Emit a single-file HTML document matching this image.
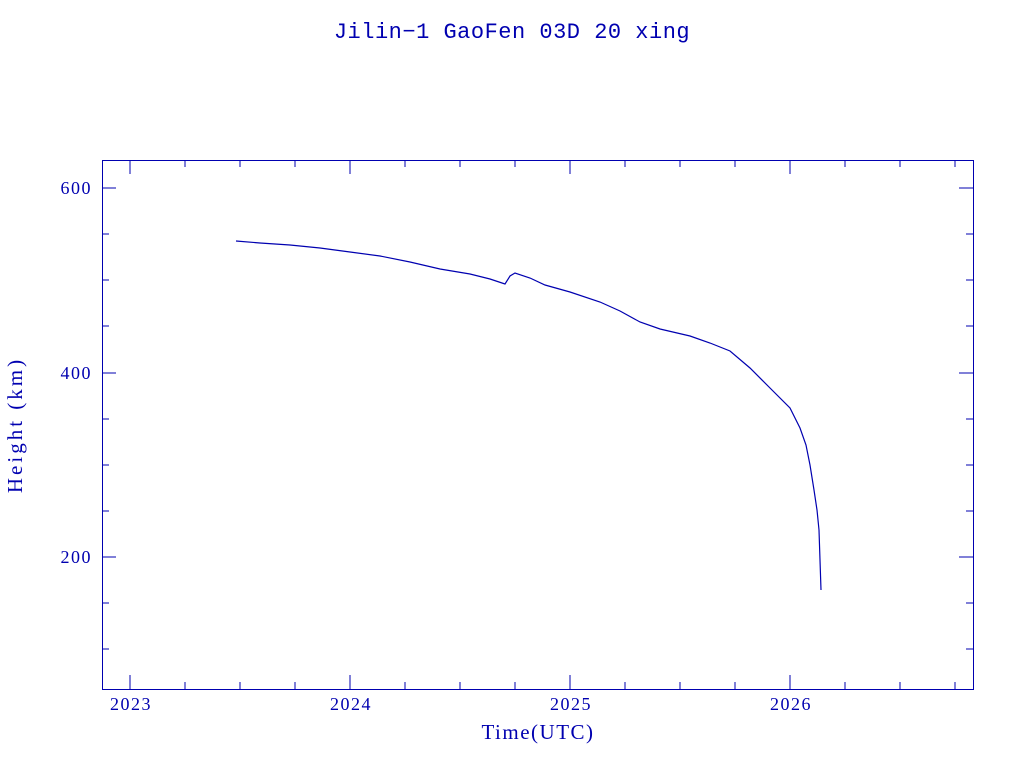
<!DOCTYPE html>
<html><head><meta charset="utf-8"><style>
html,body{margin:0;padding:0;background:#fff;}
svg{display:block;}
text{fill:#0000b0;}
</style></head><body>
<svg width="1024" height="768" viewBox="0 0 1024 768" xmlns="http://www.w3.org/2000/svg">
<text x="512" y="38" text-anchor="middle" font-family="Liberation Mono, monospace" font-size="22" letter-spacing="0.5">Jilin−1 GaoFen 03D 20 xing</text>
<rect x="102.5" y="160.5" width="871" height="529" fill="none" stroke="#0000b0" stroke-width="1"/>
<g stroke="#0000b0" stroke-width="1">
<path d="M102 188h14M102 373h14M102 557h14M973 188h-14M973 373h-14M973 557h-14"/>
<path d="M102 234h7M102 280h7M102 326h7M102 419h7M102 465h7M102 511h7M102 603h7M102 649h7
M973 234h-7M973 280h-7M973 326h-7M973 419h-7M973 465h-7M973 511h-7M973 603h-7M973 649h-7"/>
<path d="M130 689v-14M350 689v-14M570 689v-14M790 689v-14M130 160v14M350 160v14M570 160v14M790 160v14"/>
<path d="M185 689v-7M240 689v-7M295 689v-7M405 689v-7M460 689v-7M515 689v-7M625 689v-7M680 689v-7M735 689v-7M845 689v-7M900 689v-7M955 689v-7
M185 160v7M240 160v7M295 160v7M405 160v7M460 160v7M515 160v7M625 160v7M680 160v7M735 160v7M845 160v7M900 160v7M955 160v7"/>
</g>
<g font-family="Liberation Serif, serif" font-size="18" letter-spacing="1.5">
<text x="92" y="194" text-anchor="end">600</text>
<text x="92" y="379" text-anchor="end">400</text>
<text x="92" y="563" text-anchor="end">200</text>
<text x="131" y="710" text-anchor="middle">2023</text>
<text x="351" y="710" text-anchor="middle">2024</text>
<text x="571" y="710" text-anchor="middle">2025</text>
<text x="791" y="710" text-anchor="middle">2026</text>
</g>
<text x="538" y="739" text-anchor="middle" font-family="Liberation Serif, serif" font-size="21" letter-spacing="1.5">Time(UTC)</text>
<text transform="translate(22,425) rotate(-90)" text-anchor="middle" font-family="Liberation Serif, serif" font-size="21" letter-spacing="3">Height (km)</text>
<polyline fill="none" stroke="#0000b0" stroke-width="1.2" points="236,241 260,243 290,245 320,248 350,252 380,256 410,262 440,269 470,274 490,279 505,284 510,276 515,273 530,278 545,285 570,292 600,302 620,311 640,322 660,329 690,336 710,343 730,351 750,368 770,388 790,408 800,428 806,445 810,465 814,490 817,510 819,530 820,560 821,590"/>
</svg>
</body></html>
